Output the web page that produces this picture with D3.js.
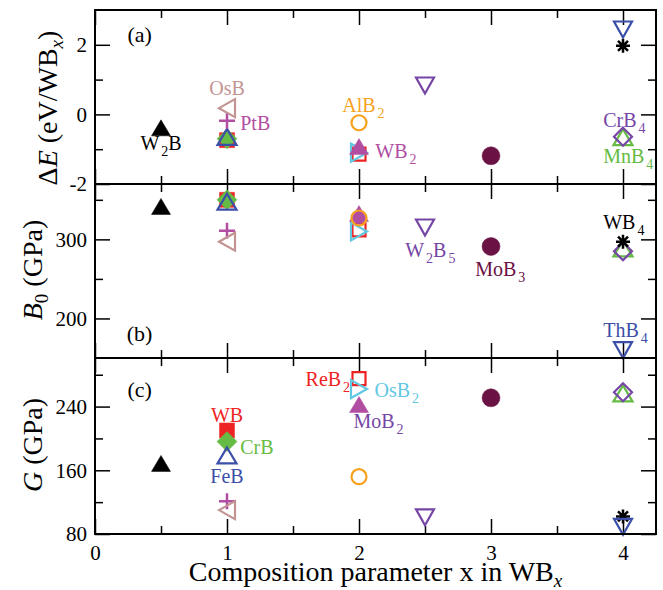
<!DOCTYPE html>
<html><head><meta charset="utf-8">
<script src="https://cdn.jsdelivr.net/npm/d3@7"></script>
<style>
body{margin:0;background:#fff}
svg{display:block}
text{font-family:"Liberation Serif","Times New Roman",Times,serif;fill:#000}
</style>
</head><body>
<svg id="chart" width="663" height="590"></svg>
<script>
// ---------------- data ----------------
const compounds = ["W2B","WB","CrB","FeB","PtB","OsB","ReB2","OsB2","WB2","MoB2","AlB2","W2B5","MoB3","MnB4","CrB4","WB4","ThB4"];
const composition = [0.5, 1, 1, 1, 1, 1, 2, 2, 2, 2, 2, 2.5, 3, 4, 4, 4, 4];
const deltaE = [-0.4, -0.74, -0.7, -0.66, -0.18, 0.18, -1.14, -1.1, -0.94, null, -0.24, 0.83, -1.19, -0.67, -0.64, 1.97, 2.44];
const bulkB0 = [341, 350, 350, 347, 311, 297, 312, 310, 332, 327, 327, 315, 291, 288, 285, 297, 160];
const shearG = [168, 210, 196, 178, 121, 110, 275, 262, 242, null, 152, 101, 251, 256, 258, 102, 89];

const xTicksMajor = [0, 1, 2, 3, 4];
const xTicksMinor = [0.5, 1.5, 2.5, 3.5];
const eTicksMajor = [-2, 0, 2];
const eTicksMinor = [-1, 1];
const bTicksMajor = [200, 300];
const bTicksMinor = [250, 350];
const gTicksMajor = [80, 160, 240];
const gTicksMinor = [120, 200, 280];

// annotation labels: panel index, text ("_" marks a one-character subscript), data coords
const labelPanel = [0,0,0,0,0,0,0, 1,1,1,1, 2,2,2,2,2,2];
const labelText  = ["W_2B","OsB","PtB","AlB_2","WB_2","CrB_4","MnB_4", "W_2B_5","MoB_3","WB_4","ThB_4", "ReB_2","OsB_2","MoB_2","WB","CrB","FeB"];
const labelX     = [0.5, 1.0, 1.10, 1.873, 2.123, 3.85, 3.85, 2.35, 2.88, 3.85, 3.85, 1.595, 2.117, 1.958, 1.0, 1.10, 1.0];
const labelY     = [-1.02, 0.56, -0.45, 0.07, -1.25, -0.36, -1.39, 277.7, 253.7, 313, 176.5, 266, 252.5, 212.5, 221, 181, 143.5];
const panelNames = ["(a)", "(b)", "(c)"];
const panelNameX = 0.338;
const panelNameY = [2.08, 171.5, 252.5];

// ---------------- styles ----------------
const C = {black:"#000000", red:"#ee2424", green:"#66bb44", blue:"#3b4fa8", magenta:"#b24ea2",
           rosy:"#c39494", orange:"#f7a21e", cyan:"#62c8e2", purple:"#7646a6", maroon:"#6b1244"};
const markerShape = ["triUp","square","diamondBig","triUp","plus","triLeft","squareSmall","triRight","triUp","circleSmall","circleOpen","triDown","circleBig","triUp","diamond","asterisk","triDown"];
const markerFill  = [true,true,true,false,false,false,false,false,true,true,false,false,true,false,false,false,false];
const markerColor = [C.black,C.red,C.green,C.blue,C.magenta,C.rosy,C.red,C.cyan,C.magenta,C.magenta,C.orange,C.purple,C.maroon,C.green,C.purple,C.black,C.blue];
const labelColor  = [C.black,C.rosy,C.magenta,C.orange,C.magenta,C.purple,C.green, C.purple,C.maroon,C.black,C.blue, C.red,C.cyan,C.purple,C.red,C.green,C.blue];
const labelAnchor = ["middle","middle","start","start","start","start","start","start","start","start","start","start","start","start","middle","start","middle"];

const shapes = {
  triUp:      "M0,-8.5L9.5,7.5L-9.5,7.5Z",
  triDown:    "M0,8L9,-8L-9,-8Z",
  triLeft:    "M-8,0L8,-9L8,9Z",
  triRight:   "M8,0L-8,-9L-8,9Z",
  square:     "M-7.5,-7.5H7.5V7.5H-7.5Z",
  squareSmall:"M-6.5,-6.5H6.5V6.5H-6.5Z",
  diamond:    "M0,-9L9,0L0,9L-9,0Z",
  diamondBig: "M0,-10L10,0L0,10L-10,0Z",
  plus:       "M-8,0H8M0,-8V8",
  asterisk:   "M-7,0H7M0,-7V7M-5,-5L5,5M-5,5L5,-5",
  circleSmall:"M6,0A6,6 0 1,1 -6,0A6,6 0 1,1 6,0Z",
  circleOpen: "M7.5,0A7.5,7.5 0 1,1 -7.5,0A7.5,7.5 0 1,1 7.5,0Z",
  circleBig:  "M9,0A9,9 0 1,1 -9,0A9,9 0 1,1 9,0Z"
};

// ---------------- layout ----------------
const frameL = 95, frameR = 656;
const panelTop = [10, 184, 358], panelBot = [184, 358, 534];
const svg = d3.select("#chart");

const x = d3.scaleLinear().domain([0, 4.25]).range([frameL, frameR]);
const yScales = [
  d3.scaleLinear().domain([-2, 3]).range([panelBot[0], panelTop[0]]),
  d3.scaleLinear().domain([150, 370]).range([panelBot[1], panelTop[1]]),
  d3.scaleLinear().domain([80, 301]).range([panelBot[2], panelTop[2]])
];
const values = [deltaE, bulkB0, shearG];
const yMajors = [eTicksMajor, bTicksMajor, gTicksMajor];
const yMinors = [eTicksMinor, bTicksMinor, gTicksMinor];

function styleAxis(g){
  g.select(".domain").remove();
  g.selectAll(".tick line").attr("stroke","#000").attr("stroke-width",1.5);
  g.selectAll(".tick text").filter(function(){ return this.textContent === ""; }).remove();
  g.selectAll(".tick text").attr("fill","#000").style("font-family",'"Liberation Serif","Times New Roman",serif').style("font-size","21px");
}

for (let p = 0; p < 3; p++) {
  const y = yScales[p];
  const g = svg.append("g");
  // left
  g.append("g").attr("transform",`translate(${frameL},0)`)
    .call(d3.axisLeft(y).tickValues(yMajors[p]).tickSizeInner(-15).tickSizeOuter(0).tickPadding(8).tickFormat(d=>String(d)))
    .call(styleAxis);
  g.append("g").attr("transform",`translate(${frameL},0)`)
    .call(d3.axisLeft(y).tickValues(yMinors[p]).tickSizeInner(-8).tickSizeOuter(0).tickFormat(""))
    .call(styleAxis);
  // right
  g.append("g").attr("transform",`translate(${frameR},0)`)
    .call(d3.axisRight(y).tickValues(yMajors[p]).tickSizeInner(-15).tickSizeOuter(0).tickFormat(""))
    .call(styleAxis);
  g.append("g").attr("transform",`translate(${frameR},0)`)
    .call(d3.axisRight(y).tickValues(yMinors[p]).tickSizeInner(-8).tickSizeOuter(0).tickFormat(""))
    .call(styleAxis);
  // top
  g.append("g").attr("transform",`translate(0,${panelTop[p]})`)
    .call(d3.axisTop(x).tickValues(xTicksMajor).tickSizeInner(-15).tickSizeOuter(0).tickFormat(""))
    .call(styleAxis);
  g.append("g").attr("transform",`translate(0,${panelTop[p]})`)
    .call(d3.axisTop(x).tickValues(xTicksMinor).tickSizeInner(-8).tickSizeOuter(0).tickFormat(""))
    .call(styleAxis);
  // bottom
  g.append("g").attr("transform",`translate(0,${panelBot[p]})`)
    .call(d3.axisBottom(x).tickValues(xTicksMajor).tickSizeInner(-15).tickSizeOuter(0).tickPadding(11)
      .tickFormat(p === 2 ? (d=>String(d)) : ""))
    .call(styleAxis);
  g.append("g").attr("transform",`translate(0,${panelBot[p]})`)
    .call(d3.axisBottom(x).tickValues(xTicksMinor).tickSizeInner(-8).tickSizeOuter(0).tickFormat(""))
    .call(styleAxis);

  // markers
  const pts = compounds.map((c,i)=>({i, x: composition[i], v: values[p][i]})).filter(d=>d.v !== null);
  g.append("g").selectAll("path").data(pts).join("path")
    .attr("transform", d=>`translate(${x(d.x)},${y(d.v)})`)
    .attr("d", d=>shapes[markerShape[d.i]])
    .attr("fill", d=> markerFill[d.i] ? markerColor[d.i] : "none")
    .attr("stroke", d=>markerColor[d.i])
    .attr("stroke-width", d=> markerFill[d.i] ? 0.5 : (markerShape[d.i]==="plus"||markerShape[d.i]==="asterisk" ? 2.5 : 2.2));

  // panel name
  g.append("text").attr("x", x(panelNameX)).attr("y", y(panelNameY[p]))
    .attr("text-anchor","middle").style("font-size","22px").text(panelNames[p]);

  // frame
  g.append("rect").attr("x",frameL).attr("y",panelTop[p]).attr("width",frameR-frameL).attr("height",panelBot[p]-panelTop[p])
    .attr("fill","none").attr("stroke","#000").attr("stroke-width",2);
}

// annotation labels
labelText.forEach((t,k)=>{
  const y = yScales[labelPanel[k]];
  const txt = svg.append("text").attr("x", x(labelX[k])).attr("y", y(labelY[k]))
    .attr("text-anchor", labelAnchor[k]).attr("fill", labelColor[k]).style("fill", labelColor[k]).style("font-size","20px");
  let sub = false, shifted = false;
  for (let j = 0; j < t.length; j++) {
    if (t[j] === "_") { sub = true; continue; }
    if (sub) {
      txt.append("tspan").attr("dx",2).attr("dy",6).style("font-size","14px").text(t[j]);
      sub = false; shifted = true;
    } else {
      const ts = txt.append("tspan").text(t[j]);
      if (shifted) { ts.attr("dy",-6); shifted = false; }
    }
  }
});

// axis titles
function title(parts, tx, ty, rot){
  const t = svg.append("text").attr("transform",`translate(${tx},${ty})${rot?" rotate(-90)":""}`)
    .attr("text-anchor","middle").style("font-size","28px");
  let shifted = false;
  parts.forEach(([s, it, sb])=>{
    const ts = t.append("tspan").text(s);
    if (it) ts.style("font-style","italic");
    if (sb) { ts.attr("dy",6).style("font-size","19px"); shifted = true; }
    else if (shifted) { ts.attr("dy",-6); shifted = false; }
  });
}
title([["Δ"],["E",true],[" (eV/WB"],["x",true,true],[")"]], 57, 108, true);
title([["B",true],["0",false,true],[" (GPa)"]], 42, 270, true);
title([["G",true],[" (GPa)"]], 42, 445, true);
title([["Composition parameter x in WB"],["x",true,true]], (frameL+frameR)/2, 581, false);
</script>
</body></html>
